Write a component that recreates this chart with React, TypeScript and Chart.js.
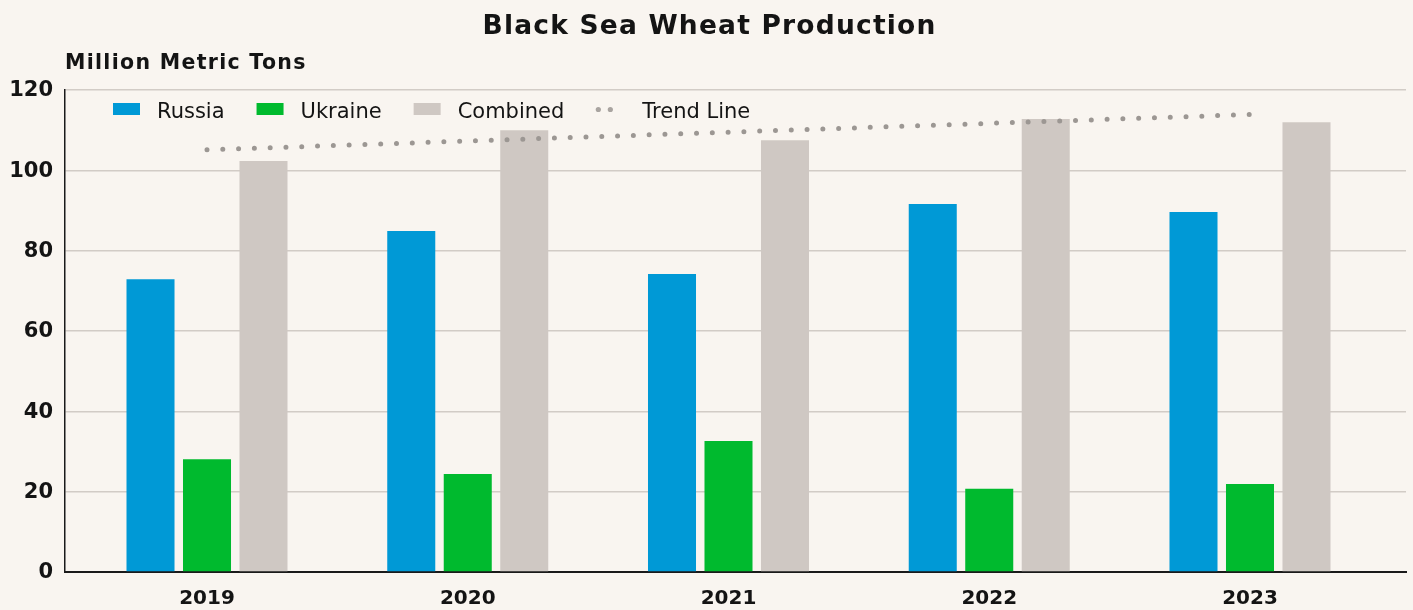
import React, { useEffect, useRef } from "react";
import { Chart, registerables } from "chart.js";

Chart.register(...registerables);

// ---- data ----
const years = [2019, 2020, 2021, 2022, 2023];
const russia = [72.9, 84.9, 74.2, 91.6, 89.6];
const ukraine = [28.1, 24.4, 32.6, 20.7, 21.9];
const combined = [102.3, 110.0, 107.5, 112.8, 112.0];
const trend = [105.1, 107.3, 109.5, 111.7, 113.9];
const yTicks = [0, 20, 40, 60, 80, 100, 120];
const seriesNames = ["Russia", "Ukraine", "Combined", "Trend Line"];
const chartTitle = "Black Sea Wheat Production";
const yAxisTitle = "Million Metric Tons";

// ---- styles ----
const BG = "#F9F5F0";
const INK = "#141414";
const COLORS = ["#0099D6", "#00BA2E", "#CFC8C3", "#9C9793"];
const FONT = "'DejaVu Sans', sans-serif";

const decorPlugin = {
  id: "decor",
  beforeDraw(chart: any) {
    const { ctx } = chart;
    ctx.save();
    ctx.fillStyle = BG;
    ctx.fillRect(0, 0, chart.width, chart.height);
    ctx.restore();
  },
  afterDraw(chart: any) {
    const { ctx, chartArea } = chart;
    ctx.save();
    ctx.fillStyle = INK;
    ctx.textBaseline = "alphabetic";
    // title
    ctx.font = `bold 26.5px ${FONT}`;
    (ctx as any).letterSpacing = "1.2px";
    ctx.textAlign = "center";
    ctx.fillText(chartTitle, chart.width / 2 + 3, 34);
    // y-axis title
    ctx.font = `bold 20.5px ${FONT}`;
    (ctx as any).letterSpacing = "1.3px";
    ctx.textAlign = "left";
    ctx.fillText(yAxisTitle, chartArea.left, 69);
    // legend
    (ctx as any).letterSpacing = "0px";
    ctx.font = `21px ${FONT}`;
    let x = chartArea.left + 48;
    const boxTop = chartArea.top + 13;
    const baseline = chartArea.top + 28;
    seriesNames.forEach((name, i) => {
      if (i < 3) {
        ctx.fillStyle = COLORS[i];
        ctx.fillRect(x, boxTop, 27, 12);
        ctx.fillStyle = INK;
        ctx.fillText(name, x + 44, baseline);
        x = x + 44 + ctx.measureText(name).width + 32;
      } else {
        ctx.fillStyle = "#A9A4A0";
        [2, 14].forEach((dx) => {
          ctx.beginPath();
          ctx.arc(x + dx, boxTop + 6.5, 2.6, 0, Math.PI * 2);
          ctx.fill();
        });
        ctx.fillStyle = INK;
        ctx.fillText(name, x + 46, baseline);
      }
    });
    ctx.restore();
  },
};

export default function App() {
  const ref = useRef<HTMLCanvasElement | null>(null);

  useEffect(() => {
    document.body.style.margin = "0";
    document.body.style.background = BG;
    if (!ref.current) return;
    const toPts = (arr: number[]) => years.map((x, i) => ({ x, y: arr[i] }));
    const chart = new Chart(ref.current, {
      type: "bar",
      data: {
        datasets: [
          {
            type: "line",
            label: seriesNames[3],
            data: toPts(trend),
            borderColor: COLORS[3],
            borderWidth: 5,
            borderDash: [0, 15.8],
            borderCapStyle: "round",
            pointRadius: 0,
            fill: false,
            tension: 0,
            order: 0,
          } as any,
          {
            label: seriesNames[0],
            data: toPts(russia),
            backgroundColor: COLORS[0],
            order: 1,
          },
          {
            label: seriesNames[1],
            data: toPts(ukraine),
            backgroundColor: COLORS[1],
            order: 1,
          },
          {
            label: seriesNames[2],
            data: toPts(combined),
            backgroundColor: COLORS[2],
            order: 1,
          },
        ],
      },
      options: {
        animation: false,
        responsive: false,
        maintainAspectRatio: false,
        datasets: {
          bar: { categoryPercentage: 0.65, barPercentage: 0.85 },
        } as any,
        layout: { padding: { top: 90, right: 7, bottom: 0, left: 0 } },
        plugins: {
          legend: { display: false },
          title: { display: false },
          tooltip: { enabled: false },
        },
        scales: {
          x: {
            type: "linear",
            min: 2018.4554,
            max: 2023.5983,
            offset: false,
            afterBuildTicks: (scale: any) => {
              scale.ticks = years.map((v) => ({ value: v }));
            },
            afterFit: (scale: any) => {
              scale.height = 38;
            },
            grid: { display: false, drawTicks: false },
            border: { display: true, color: "#1A1A1A", width: 2 },
            ticks: {
              callback: (v: any) => String(v),
              font: { family: FONT, size: 20, weight: "bold" },
              color: INK,
              padding: 15,
              maxRotation: 0,
              autoSkip: false,
            },
          } as any,
          y: {
            min: 0,
            max: 120,
            afterBuildTicks: (scale: any) => {
              scale.ticks = yTicks.map((v) => ({ value: v }));
            },
            afterFit: (scale: any) => {
              scale.width = 65;
            },
            grid: { color: "#D2CCC6", lineWidth: 1.5, drawTicks: false },
            border: { display: true, color: "#1A1A1A", width: 1.5 },
            ticks: {
              font: { family: FONT, size: 21, weight: "bold" },
              color: INK,
              padding: 12,
              labelOffset: 1,
            },
          } as any,
        },
      },
      plugins: [decorPlugin],
    });
    return () => chart.destroy();
  }, []);

  return (
    <canvas
      ref={ref}
      width={1413}
      height={610}
      style={{ display: "block", width: "1413px", height: "610px" }}
    />
  );
}
